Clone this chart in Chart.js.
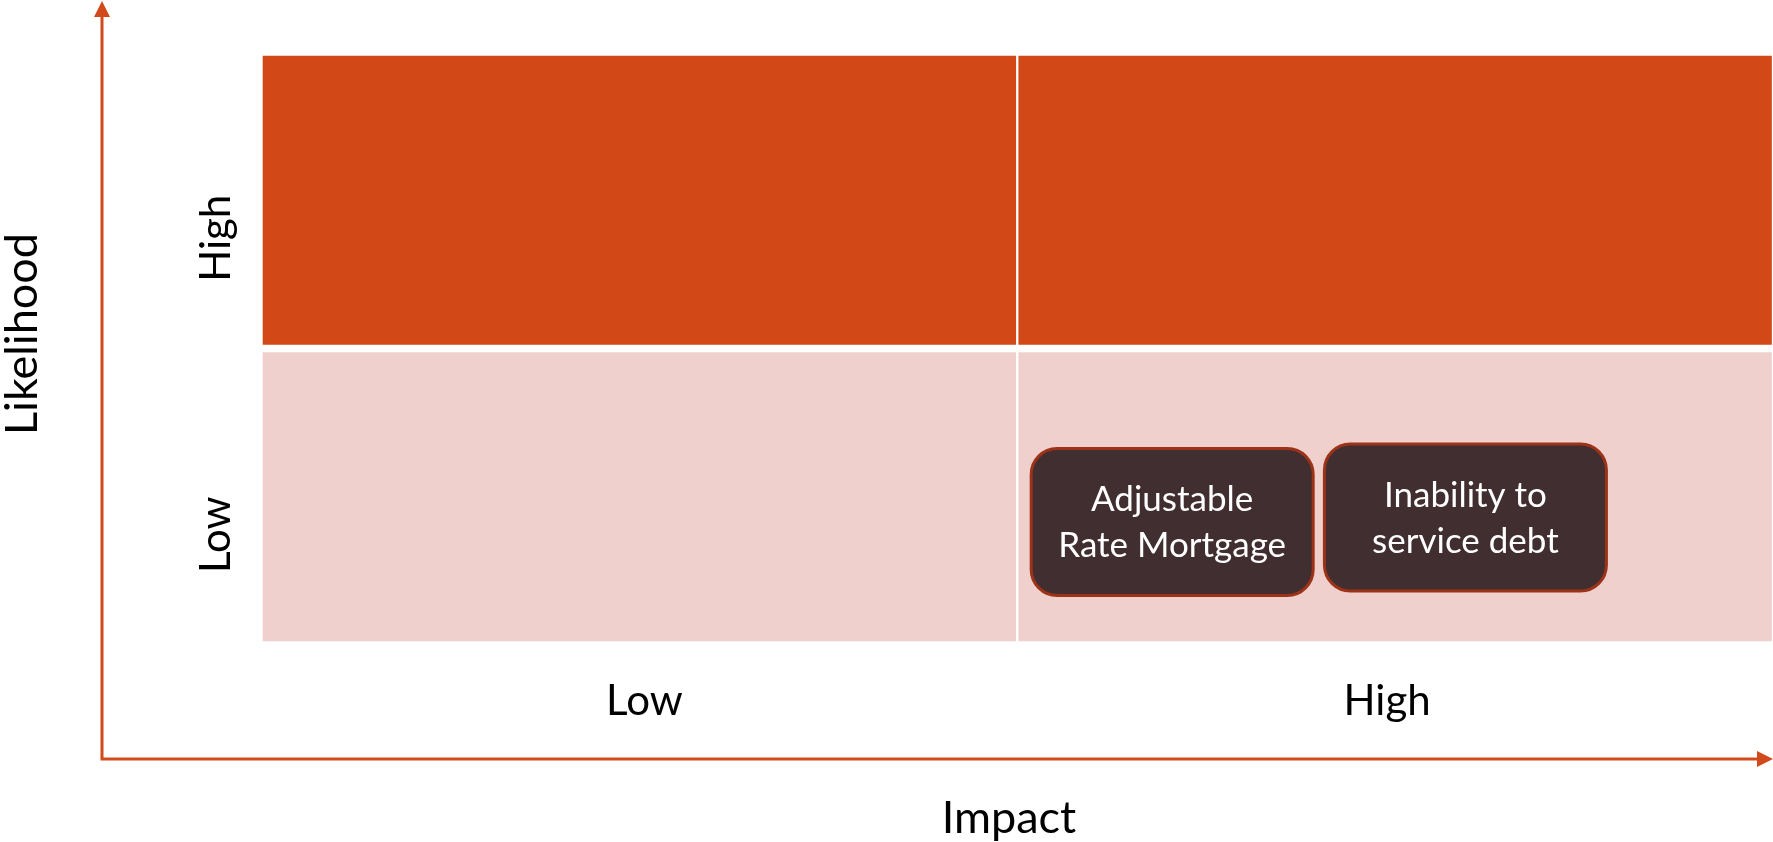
<!DOCTYPE html>
<html>
<head>
<meta charset="utf-8">
<script src="https://cdn.jsdelivr.net/npm/chart.js@4.4.1/dist/chart.umd.min.js"></script>
<style>
  html, body { margin: 0; padding: 0; background: #fff; overflow: hidden; }
  #wrap { position: relative; width: 1773px; height: 842px; }
</style>
</head>
<body>
<div id="wrap"><canvas id="riskChart" width="1773" height="842"></canvas></div>
<script>
// Axis categories
const impactLevels = ['Low', 'High'];
const likelihoodLevels = ['Low', 'High'];

// Risks placed on the matrix (impact 0..2, likelihood 0..2)
const riskNames = [['Adjustable', 'Rate Mortgage'], ['Inability to', 'service debt']];
const riskImpact = [1.205, 1.593];
const riskLikelihood = [0.415, 0.43];

const AXIS = '#D24A1B';
const FONT = 'Lato, "Open Sans", sans-serif';

const riskMatrix = {
    id: 'riskMatrix',
    afterDatasetsDraw(chart) {
        const ctx = chart.ctx;
        const meta = chart.getDatasetMeta(2);
        meta.data.forEach((pt, i) => {
            const w = 282, h = 147, r = 26;
            const x0 = pt.x - w / 2, y0 = pt.y - h / 2;
            ctx.save();
            ctx.beginPath();
            ctx.roundRect(x0, y0, w, h, r);
            ctx.fillStyle = '#402E30';
            ctx.fill();
            ctx.lineWidth = 3;
            ctx.strokeStyle = '#9C3218';
            ctx.stroke();
            ctx.fillStyle = '#ffffff';
            ctx.font = '35px ' + FONT;
            ctx.textAlign = 'center';
            ctx.textBaseline = 'alphabetic';
            const lines = riskNames[i];
            const lh = 46;
            lines.forEach((t, j) => {
                ctx.fillText(t, pt.x, pt.y + 12 + (j - (lines.length - 1) / 2) * lh);
            });
            ctx.restore();
        });
    },
    afterDraw(chart) {
        const ctx = chart.ctx;
        const { left, bottom } = chart.chartArea;
        const x = chart.scales.x, y = chart.scales.y;
        const ax = left - 159.5, ay = bottom + 114;
        ctx.save();
        // axis lines with arrows
        ctx.strokeStyle = AXIS;
        ctx.fillStyle = AXIS;
        ctx.lineWidth = 3;
        ctx.beginPath();
        ctx.moveTo(ax, 14);
        ctx.lineTo(ax, ay);
        ctx.lineTo(chart.width - 14, ay);
        ctx.stroke();
        ctx.beginPath();
        ctx.moveTo(ax, 1);
        ctx.lineTo(ax - 8, 17);
        ctx.lineTo(ax + 8, 17);
        ctx.closePath();
        ctx.fill();
        ctx.beginPath();
        ctx.moveTo(chart.width, ay);
        ctx.lineTo(chart.width - 16, ay - 8);
        ctx.lineTo(chart.width - 16, ay + 8);
        ctx.closePath();
        ctx.fill();

        // tick labels
        ctx.fillStyle = '#000';
        ctx.font = '42px ' + FONT;
        ctx.textAlign = 'center';
        ctx.textBaseline = 'alphabetic';
        const tickShift = [5, -8];
        impactLevels.forEach((t, i) => {
            ctx.fillText(t, x.getPixelForValue(i) + tickShift[i], bottom + 70);
        });
        likelihoodLevels.forEach((t, i) => {
            const py = y.getPixelForValue(i + 0.5) + 38;
            ctx.save();
            ctx.translate(230, py);
            ctx.rotate(-Math.PI / 2);
            ctx.fillText(t, 0, 0);
            ctx.restore();
        });

        // axis titles
        ctx.font = '45px ' + FONT;
        ctx.fillText('Impact', 1009, 833);
        ctx.save();
        ctx.translate(37, 334);
        ctx.rotate(-Math.PI / 2);
        ctx.fillText('Likelihood', 0, 0);
        ctx.restore();
        ctx.restore();
    }
};

const border = { top: 4, bottom: 4, left: 1.5, right: 1.5 };

new Chart(document.getElementById('riskChart'), {
    data: {
        labels: impactLevels,
        datasets: [
            {
                type: 'bar',
                label: 'Low likelihood',
                data: impactLevels.map(() => [0, 1]),
                backgroundColor: '#EFD0CD',
                borderColor: '#ffffff',
                borderWidth: border,
                borderSkipped: false,
                grouped: false,
                barPercentage: 1,
                categoryPercentage: 1
            },
            {
                type: 'bar',
                label: 'High likelihood',
                data: impactLevels.map(() => [1, 2]),
                backgroundColor: '#D24817',
                borderColor: '#ffffff',
                borderWidth: border,
                borderSkipped: false,
                grouped: false,
                barPercentage: 1,
                categoryPercentage: 1
            },
            {
                type: 'scatter',
                label: 'Risks',
                xAxisID: 'xr',
                data: riskImpact.map((v, i) => ({ x: v, y: riskLikelihood[i] })),
                pointRadius: 0
            }
        ]
    },
    options: {
        responsive: false,
        animation: false,
        layout: { padding: { left: 261.5, top: 52, right: 0, bottom: 197 } },
        scales: {
            x: { type: 'category', display: false, offset: true },
            xr: { type: 'linear', display: false, min: 0, max: 2 },
            y: { type: 'linear', display: false, min: 0, max: 2 }
        },
        plugins: {
            legend: { display: false },
            tooltip: { enabled: false }
        }
    },
    plugins: [riskMatrix]
});
</script>
</body>
</html>
